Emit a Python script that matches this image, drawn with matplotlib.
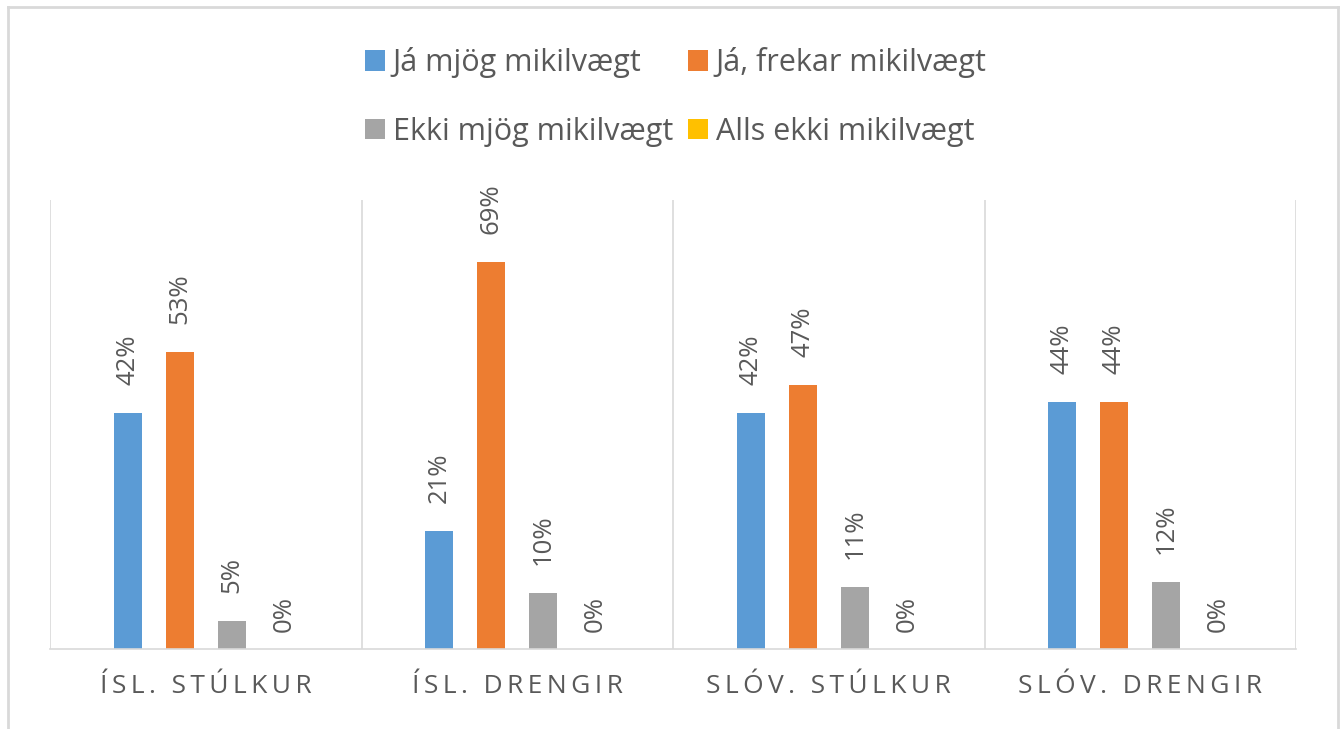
import numpy as np
import matplotlib
matplotlib.use("Agg")
import matplotlib.pyplot as plt
from matplotlib.lines import Line2D

plt.rcParams["font.family"] = ["Open Sans", "DejaVu Sans"]

flokkar = ["ÍSL. STÚLKUR", "ÍSL. DRENGIR", "SLÓV. STÚLKUR", "SLÓV. DRENGIR"]
svor = ["Já mjög mikilvægt", "Já, frekar mikilvægt", "Ekki mjög mikilvægt", "Alls ekki mikilvægt"]
mjog = [42, 21, 42, 44]
frekar = [53, 69, 47, 44]
ekki_mjog = [5, 10, 11, 12]
alls_ekki = [0, 0, 0, 0]

litir = ["#5B9BD5", "#ED7D31", "#A5A5A5", "#FFC000"]
texti_litur = "#595959"


def spacing(s, sep="\u2009"):
    return sep.join(s)


def graficar(output_path):
    fig = plt.figure(figsize=(13.43, 7.29), dpi=100)
    ax = fig.add_axes([50 / 1343, 1 - 649 / 729, 1246 / 1343, 449 / 729])

    x = np.arange(len(flokkar))
    breidd = 0.09
    bil = 0.167
    gildi = [mjog, frekar, ekki_mjog, alls_ekki]

    handles = []
    for i, (nafn, vals) in enumerate(zip(svor, gildi)):
        pos = x + (i - 1.5) * bil
        h = ax.bar(pos, vals, width=breidd, color=litir[i], label=nafn)
        handles.append(h)
        for px, v in zip(pos, vals):
            off = 20 if v > 0 else 12
            ax.annotate(f"{v}%", (px, v), xytext=(0, off), textcoords="offset points",
                        rotation=90, ha="center", va="bottom", fontsize=18.5, color=texti_litur)

    ax.set_xlim(-0.5, 3.5)
    ax.set_ylim(0, 80)
    ax.set_yticks([])
    ax.set_xticks(x)
    ax.set_xticklabels([spacing(f) for f in flokkar], fontsize=19, color=texti_litur)
    ax.tick_params(axis="x", length=0, pad=18)

    for s in ["top", "right", "left"]:
        ax.spines[s].set_visible(False)
    ax.spines["bottom"].set_color("#D9D9D9")
    ax.spines["bottom"].set_linewidth(1.2)
    for b in np.arange(-0.5, 4.0, 1.0):
        ax.axvline(b, color="#D9D9D9", linewidth=1.2)

    # raða eftir línum: 0, 2 í fyrsta dálki, 1, 3 í öðrum
    rod = [0, 2, 1, 3]
    fig.legend([handles[i] for i in rod], [svor[i] for i in rod],
               loc="center", bbox_to_anchor=(676 / 1343, 1 - 97 / 729), ncol=2,
               frameon=False, fontsize=22, handlelength=0.65, handleheight=0.65,
               handletextpad=0.25, columnspacing=0.5, labelspacing=1.25,
               labelcolor=texti_litur)

    # ramminn um myndina
    fig.add_artist(Line2D([8 / 1343, 8 / 1343], [0, 1 - 7 / 729], color="#D9D9D9", lw=2))
    fig.add_artist(Line2D([8 / 1343, 1338 / 1343], [1 - 7 / 729, 1 - 7 / 729], color="#D9D9D9", lw=2))
    fig.add_artist(Line2D([1338 / 1343, 1338 / 1343], [0, 1 - 7 / 729], color="#D9D9D9", lw=2))

    fig.savefig(output_path, dpi=100)
    plt.close(fig)


if __name__ == "__main__":
    graficar("out.png")
